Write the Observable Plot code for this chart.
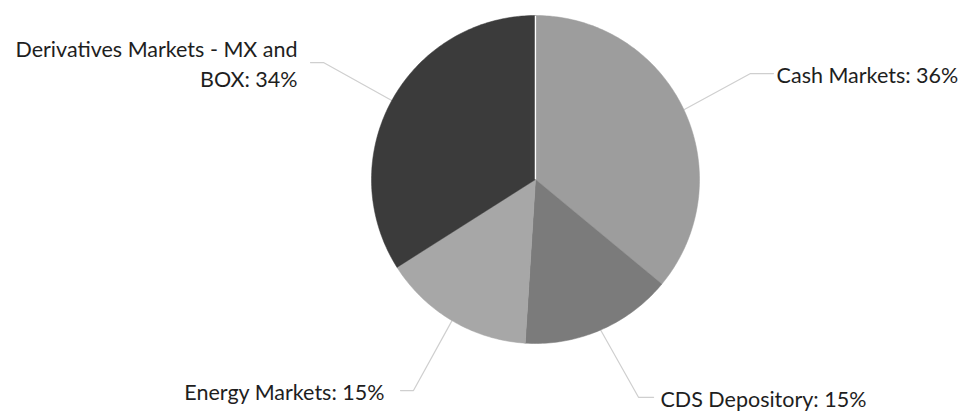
<!DOCTYPE html>
<html>
<head>
<meta charset="utf-8">
<script src="https://cdn.jsdelivr.net/npm/d3@7"></script>
<script src="https://cdn.jsdelivr.net/npm/@observablehq/plot@0.6"></script>
<style>
  html, body { margin: 0; padding: 0; background: #fff; }
  #chart svg { display: block; }
</style>
</head>
<body>
<div id="chart"></div>
<script>
// ---- data ----
const categories = ["Cash Markets", "CDS Depository", "Energy Markets", "Derivatives Markets - MX and BOX"];
const shares = [36, 15, 15, 34];
const labelTexts = ["Cash Markets: 36%", "CDS Depository: 15%", "Energy Markets: 15%", "Derivatives Markets - MX and\nBOX: 34%"];
const sliceColors = ["#9d9d9d", "#7b7b7b", "#a7a7a7", "#3b3b3b"];

// ---- layout (label leader elbows / text anchors, in pie-radius units) ----
const elbow = [[1.311, 0.646], [0.628, -1.328], [-0.744, -1.287], [-1.293, 0.713]];
const lineEnd = [1.451, 0.720, -0.823, -1.372];
const textX = [1.470, 0.762, -0.921, -1.451];
const textAnchor = ["start", "start", "end", "end"];

// ---- build slices ----
const total = d3.sum(shares);
const pts = [];
const leaders = [];
const labels = [];
const seams = [];
let acc = 0;
categories.forEach((c, i) => {
  const a0 = acc / total * 2 * Math.PI;
  acc += shares[i];
  const a1 = acc / total * 2 * Math.PI;
  if (i === 0) seams.push({x1: 0, y1: 0, x2: Math.sin(a0), y2: Math.cos(a0)});
  pts.push({cat: c, x: 0, y: 0});
  const n = Math.max(4, Math.ceil((a1 - a0) / (Math.PI / 180)));
  for (let k = 0; k <= n; k++) {
    const a = a0 + (a1 - a0) * k / n;
    pts.push({cat: c, x: Math.sin(a), y: Math.cos(a)});
  }
  const am = (a0 + a1) / 2;
  const ey = elbow[i][1];
  leaders.push({cat: c, x: Math.sin(am), y: Math.cos(am)});
  leaders.push({cat: c, x: elbow[i][0], y: ey});
  leaders.push({cat: c, x: lineEnd[i], y: ey});
  labels.push({text: labelTexts[i], x: textX[i], y: ey, anchor: textAnchor[i]});
});

const W = 963, H = 413, R = 164, cx = 535, cy = 179;
const textOpts = {x: "x", y: "y", text: "text", fontSize: 21.5, lineHeight: 1.4, fill: "#1e1e1e"};
const chart = Plot.plot({
  width: W,
  height: H,
  margin: 0,
  style: {background: "#fff", fontFamily: "Lato, 'Open Sans', sans-serif"},
  x: {domain: [-cx / R, (W - cx) / R], axis: null},
  y: {domain: [-(H - cy) / R, cy / R], axis: null},
  color: {domain: categories, range: sliceColors},
  marks: [
    Plot.line(leaders, {x: "x", y: "y", z: "cat", stroke: "#cfcfcf", strokeWidth: 1.2}),
    Plot.line(pts, {x: "x", y: "y", z: "cat", fill: "cat", stroke: "cat", strokeWidth: 0.5, curve: "linear-closed"}),
    Plot.link(seams, {x1: "x1", y1: "y1", x2: "x2", y2: "y2", stroke: "#fff", strokeWidth: 1.5}),
    Plot.text(labels.filter(d => d.anchor === "start"), {...textOpts, textAnchor: "start"}),
    Plot.text(labels.filter(d => d.anchor === "end"), {...textOpts, textAnchor: "end"})
  ]
});
document.getElementById("chart").appendChild(chart);
</script>
</body>
</html>
